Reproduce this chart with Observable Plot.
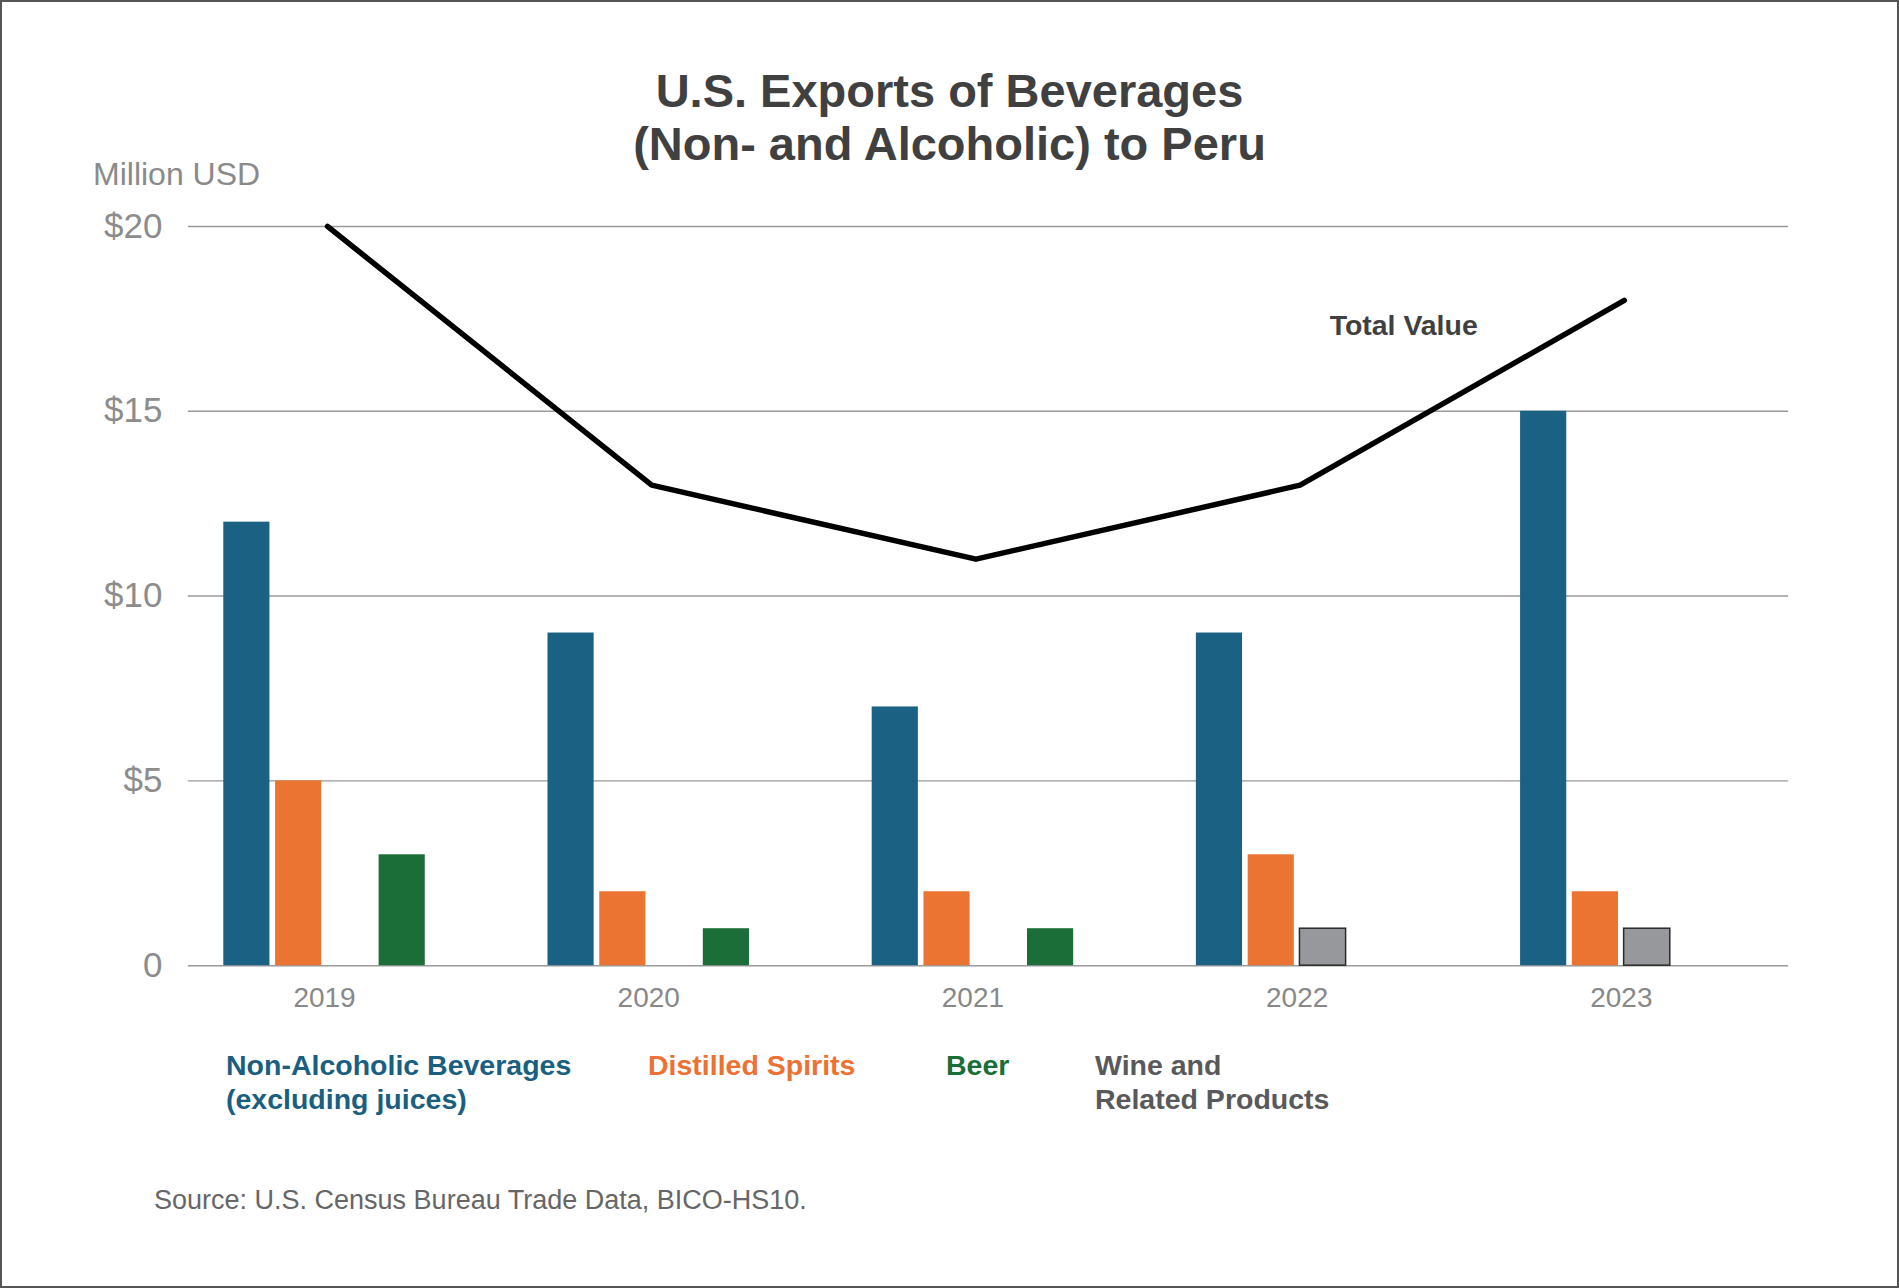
<!DOCTYPE html>
<html>
<head>
<meta charset="utf-8">
<script src="https://cdn.jsdelivr.net/npm/d3@7"></script>
<script src="https://cdn.jsdelivr.net/npm/@observablehq/plot@0.6"></script>
<style>
  html, body { margin: 0; padding: 0; background: #fff; }
  #frame { position: relative; width: 1899px; height: 1288px; box-sizing: border-box; border: 2px solid #555; overflow: hidden; font-family: "Liberation Sans", Arial, Helvetica, sans-serif; }
  .t { position: absolute; white-space: nowrap; }
  #title { left: 0; width: 1895px; top: 62px; text-align: center; font-size: 47px; line-height: 53px; font-weight: bold; color: #404040; }
  #unit { left: 91px; top: 156px; font-size: 32px; line-height: 32px; color: #8a8a8a; }
  #chart { position: absolute; left: -2px; top: 188px; }
  .leg { top: 1046px; font-size: 28.5px; line-height: 34px; font-weight: bold; }
  #source { left: 152px; top: 1185px; font-size: 27px; line-height: 27px; color: #666; }
</style>
</head>
<body>
<div id="frame">
  <div class="t" id="title">U.S. Exports of Beverages<br>(Non- and Alcoholic) to Peru</div>
  <div class="t" id="unit">Million USD</div>
  <div id="chart"></div>
  <div class="t leg" id="leg0" style="left:224px;color:#1a5f80">Non-Alcoholic Beverages<br>(excluding juices)</div>
  <div class="t leg" id="leg1" style="left:646px;color:#ec7133">Distilled Spirits</div>
  <div class="t leg" id="leg2" style="left:944px;color:#1a6e37">Beer</div>
  <div class="t leg" id="leg3" style="left:1093px;color:#59595c">Wine and<br>Related Products</div>
  <div class="t" id="source">Source: U.S. Census Bureau Trade Data, BICO-HS10.</div>
</div>
<script>
// ---- data ----
const years = [2019, 2020, 2021, 2022, 2023];
const nonAlcoholic = [12, 9, 7, 9, 15];
const distilledSpirits = [5, 2, 2, 3, 2];
const wineRelated = [0, 0, 0, 1, 1];
const beer = [3, 1, 1, 0, 0];
const totalValue = [20, 13, 11, 13, 18];
const categories = ["Non-Alcoholic Beverages (excluding juices)", "Distilled Spirits", "Wine and Related Products", "Beer"];
const categoryColors = ["#1a6183", "#ec7433", "#97989b", "#1b6e37"];
const yTicks = [0, 5, 10, 15, 20];

const seriesByCategory = [nonAlcoholic, distilledSpirits, wineRelated, beer];
const bars = [];
categories.forEach((c, ci) => {
  years.forEach((y, yi) => {
    bars.push({year: y, category: c, slot: ci, value: seriesByCategory[ci][yi]});
  });
});
const barsShown = bars.filter(d => d.value > 0);
const totals = years.map((y, i) => ({year: y, value: totalValue[i]}));

// layout of bars within a year group (in year units)
const slotStep = 0.1597;
const halfWidth = 0.0712;
const xOf = d => d.year + (d.slot - 1.5) * slotStep;

const chart = Plot.plot({
  width: 1899,
  height: 842,
  marginLeft: 188,
  marginRight: 109,
  marginTop: 36,
  marginBottom: 66,
  style: {fontFamily: '"Liberation Sans", Arial, Helvetica, sans-serif', background: "transparent"},
  x: {type: "linear", domain: [2018.5798, 2023.516]},
  y: {domain: [0, 20]},
  color: {domain: categories, range: categoryColors},
  marks: [
    Plot.ruleY(yTicks, {stroke: "#9a9a9a", strokeWidth: 1.5}),
    Plot.rect(barsShown, {
      x1: d => xOf(d) - halfWidth,
      x2: d => xOf(d) + halfWidth,
      y1: 0,
      y2: "value",
      fill: "category",
      stroke: d => d.slot === 2 ? "#2a2a2a" : "none",
      strokeWidth: 1.5
    }),
    Plot.line(totals, {x: "year", y: "value", dx: 3, stroke: "#000", strokeWidth: 5.5, strokeLinecap: "round", strokeLinejoin: "miter"}),
    Plot.text([totals[totals.length - 1]], {x: "year", y: "value", text: () => "Total Value", textAnchor: "start", dx: -292, dy: 26, fontSize: 28.5, fontWeight: "bold", fill: "#404040"}),
    Plot.axisY({ticks: yTicks, tickFormat: d => d === 0 ? "0" : "$" + d, tickSize: 0, tickPadding: 26, fontSize: 35, color: "#8c8c8c", label: null}),
    Plot.axisX({ticks: years, tickFormat: d => String(d), tickSize: 0, tickPadding: 21, fontSize: 28, color: "#888", label: null})
  ]
});
document.getElementById("chart").appendChild(chart);
</script>
</body>
</html>
